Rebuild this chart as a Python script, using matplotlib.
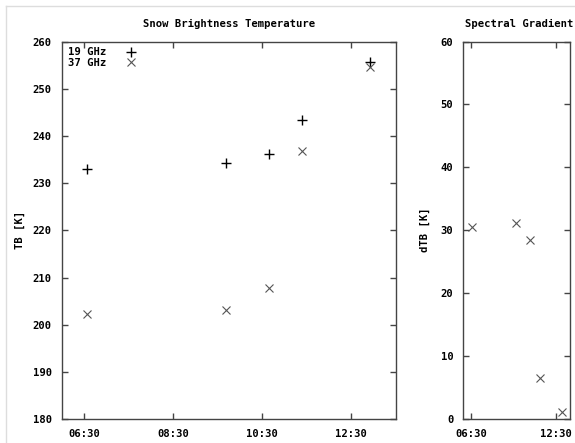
import matplotlib
matplotlib.use("Agg")
import matplotlib.pyplot as plt
from matplotlib.lines import Line2D
from matplotlib.ticker import FuncFormatter, FixedLocator

# observation times and brightness temperatures
times = ["06:34", "09:41", "10:39", "11:24", "12:55"]
tb19 = [232.9, 234.2, 236.1, 243.3, 255.7]
tb37 = [202.4, 203.1, 207.7, 236.8, 254.6]
dtb = [30.5, 31.1, 28.4, 6.5, 1.1]

left_ticks = ["06:30", "08:30", "10:30", "12:30"]
right_ticks = ["06:30", "12:30"]


def to_hours(s):
    h, m = s.split(":")
    return int(h) + int(m) / 60.0


def hhmm(v, pos=None):
    h = int(v)
    m = int(round((v - h) * 60))
    return f"{h:02d}:{m:02d}"


W, H = 575, 443
FS = 7.6
FONT = dict(family="DejaVu Sans Mono", weight="bold", size=FS)
FRAME = "#444444"

plt.rcParams["font.family"] = "DejaVu Sans Mono"
plt.rcParams["font.weight"] = "bold"

fig = plt.figure(figsize=(W / 100, H / 100), dpi=100)
fig.patch.set_facecolor("white")


def px_axes(x0, y0, x1, y1):
    return fig.add_axes([x0 / W, 1 - y1 / H, (x1 - x0) / W, (y1 - y0) / H])


def style(ax):
    for sp in ax.spines.values():
        sp.set_color(FRAME)
        sp.set_linewidth(1.0)
    ax.tick_params(direction="in", length=4, width=1, color=FRAME,
                   top=True, right=True, labelsize=FS, pad=7)
    for lab in ax.get_xticklabels() + ax.get_yticklabels():
        lab.set_fontweight("bold")
        lab.set_family("DejaVu Sans Mono")


t = [to_hours(s) for s in times]

# left panel
ax1 = px_axes(61.7, 41.5, 395.5, 419.3)
ax1.plot(t, tb19, linestyle="none", marker="+", ms=7, mew=1.0,
         color="black", label="19 GHz")
ax1.plot(t, tb37, linestyle="none", marker="x", ms=6, mew=0.8,
         color="#555555", label="37 GHz")
ax1.set_xlim(6.0, 13.5)
ax1.set_ylim(180, 260)
ax1.xaxis.set_major_locator(FixedLocator([to_hours(s) for s in left_ticks]))
ax1.xaxis.set_major_formatter(FuncFormatter(hhmm))
ax1.set_yticks(range(180, 261, 10))
style(ax1)
leg = ax1.legend(loc="upper left", markerfirst=False, frameon=False,
                 prop=dict(family="DejaVu Sans Mono", weight="bold", size=FS),
                 handlelength=1.2, handletextpad=1.8, labelspacing=0.05,
                 borderaxespad=0.2, borderpad=0.35)

# right panel
ax2 = px_axes(463, 41.5, 570, 419.3)
ax2.plot(t, dtb, linestyle="none", marker="x", ms=6, mew=0.8,
         color="#555555")
ax2.set_xlim(5.935, 13.49)
ax2.set_ylim(0, 60)
ax2.xaxis.set_major_locator(FixedLocator([to_hours(s) for s in right_ticks]))
ax2.xaxis.set_major_formatter(FuncFormatter(hhmm))
ax2.set_yticks(range(0, 61, 10))
style(ax2)

# titles and axis labels placed like the original
fig.text(142.7 / W, 1 - 23.5 / H, "Snow Brightness Temperature", ha="left",
         va="center", **FONT)
fig.text(465 / W, 1 - 23.5 / H, "Spectral Gradient", ha="left",
         va="center", **FONT)
fig.text(20 / W, 1 - 230 / H, "TB [K]", rotation=90, ha="center",
         va="center", **FONT)
fig.text(425 / W, 1 - 230 / H, "dTB [K]", rotation=90, ha="center",
         va="center", **FONT)

# light outer frame
fig.add_artist(Line2D([6 / W, 6 / W], [0, 1 - 6 / H], color="#dddddd", lw=1))
fig.add_artist(Line2D([6 / W, 1], [1 - 6 / H, 1 - 6 / H], color="#dddddd", lw=1))

fig.savefig("out.png", dpi=100)
